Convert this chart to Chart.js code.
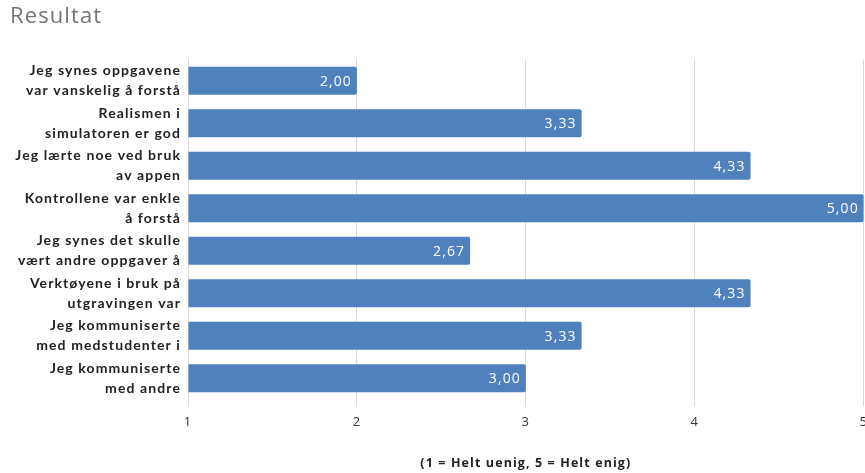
<!DOCTYPE html>
<html>
<head>
<meta charset="utf-8">
<script src="https://cdn.jsdelivr.net/npm/chart.js@4"></script>
<style>
  html, body { margin: 0; padding: 0; background: #fff; overflow: hidden; }
  #wrap { position: absolute; left: 0; top: 0; width: 876px; height: 473px; }
</style>
</head>
<body>
<div id="wrap"><canvas id="myChart"></canvas></div>
<script>
var sporsmal = [
    ['Jeg synes oppgavene', 'var vanskelig å forstå'],
    ['Realismen i', 'simulatoren er god'],
    ['Jeg lærte noe ved bruk', 'av appen'],
    ['Kontrollene var enkle', 'å forstå'],
    ['Jeg synes det skulle', 'vært andre oppgaver å'],
    ['Verktøyene i bruk på', 'utgravingen var'],
    ['Jeg kommuniserte', 'med medstudenter i'],
    ['Jeg kommuniserte', 'med andre']
];
var snitt = [2.00, 3.33, 4.33, 5.00, 2.67, 4.33, 3.33, 3.00];
var skala = [1, 2, 3, 4, 5];

// litt luft mellom bokstavene, som i originalen
var sperring = {
    id: 'sperring',
    beforeUpdate: function (chart) { chart.ctx.letterSpacing = '1.1px'; },
    beforeDraw: function (chart) { chart.ctx.letterSpacing = '1.1px'; }
};

// tall inni stolpene, med komma
var verdiTekst = {
    id: 'verdiTekst',
    afterDatasetsDraw: function (chart) {
        var ctx = chart.ctx;
        var meta = chart.getDatasetMeta(0);
        ctx.save();
        ctx.fillStyle = '#ffffff';
        ctx.font = '14px "Open Sans", sans-serif';
        ctx.textAlign = 'right';
        ctx.textBaseline = 'middle';
        meta.data.forEach(function (bar, i) {
            var txt = snitt[i].toFixed(2).replace('.', ',');
            ctx.fillText(txt, bar.x - 5, bar.y + 1);
        });
        ctx.restore();
    }
};

var ctx = document.getElementById('myChart').getContext('2d');
var grafico = new Chart(ctx, {
    type: 'bar',
    data: {
        labels: sporsmal,
        datasets: [{
            label: 'Resultat',
            data: snitt,
            base: 1,
            backgroundColor: '#4f81bd',
            borderRadius: 2,
            barPercentage: 0.66,
            categoryPercentage: 1.0
        }]
    },
    options: {
        indexAxis: 'y',
        responsive: true,
        maintainAspectRatio: false,
        animation: false,
        layout: { padding: { left: 10, top: 0, right: 0, bottom: 0 } },
        plugins: {
            legend: { display: false },
            tooltip: { enabled: false },
            title: {
                display: true,
                text: 'Resultat',
                align: 'start',
                color: '#757575',
                font: { size: 22, family: '"Open Sans", sans-serif', weight: 'normal' },
                padding: { top: 4, bottom: 29 }
            }
        },
        scales: {
            x: {
                min: 1,
                max: 5,
                ticks: {
                    stepSize: 1,
                    color: '#333333',
                    padding: 8,
                    font: { size: 13, family: '"Open Sans", sans-serif' },
                    callback: function (v) { return skala.indexOf(v) >= 0 ? String(v) : ''; }
                },
                grid: { color: '#d9d9d9', tickLength: 7, tickColor: '#d9d9d9' },
                border: { display: false },
                title: {
                    display: true,
                    text: '(1 = Helt uenig, 5 = Helt enig)',
                    color: '#222222',
                    font: { size: 12.5, weight: 'bold', family: '"Open Sans", sans-serif' },
                    padding: { top: 18, bottom: 2 }
                }
            },
            y: {
                grid: { display: false, drawTicks: false },
                border: { display: false },
                ticks: {
                    color: '#222222',
                    padding: 7,
                    autoSkip: false,
                    font: { size: 14, weight: 'bold', family: 'Lato, sans-serif', lineHeight: 1.45 }
                },
                afterFit: function (scale) { scale.width = 178; }
            }
        }
    },
    plugins: [sperring, verdiTekst]
});
</script>
</body>
</html>
